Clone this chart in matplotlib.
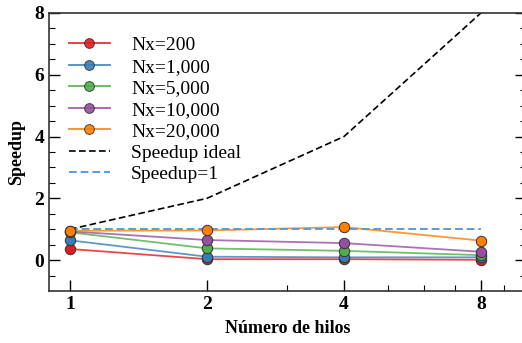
import matplotlib.pyplot as plt
from matplotlib.ticker import FixedLocator, NullFormatter

plt.rcParams['font.family'] = ['Liberation Serif', 'DejaVu Serif']

# Data
hilos = [1, 2, 4, 8]
labels = ['Nx=200', 'Nx=1,000', 'Nx=5,000', 'Nx=10,000', 'Nx=20,000']
speedup_200 = [0.36, 0.03, 0.03, 0.01]
speedup_1000 = [0.64, 0.11, 0.09, 0.09]
speedup_5000 = [0.90, 0.38, 0.30, 0.16]
speedup_10000 = [0.93, 0.65, 0.55, 0.27]
speedup_20000 = [0.95, 0.96, 1.07, 0.63]
ideal = [1, 2, 4, 8]
uno = [1, 1, 1, 1]

series = [speedup_200, speedup_1000, speedup_5000, speedup_10000, speedup_20000]
colors = ['#e41a1c', '#377eb8', '#4daf4a', '#984ea3', '#ff7f00']

fig = plt.figure(figsize=(5.22, 3.43), dpi=100)
ax = fig.add_axes([0.0943, 0.1516, 0.9134, 0.8106])

for y, c, lab in zip(series, colors, labels):
    ax.plot(hilos, y, color=c, lw=1.3, alpha=0.8)
    ax.plot(hilos, y, 'o', color=c, ms=7.5, mec='#333333', mew=0.7, zorder=3)
# legend proxies with markers
handles = []
for c, lab in zip(colors, labels):
    h, = ax.plot([], [], color=c, lw=1.3, alpha=0.9, marker='o', ms=7, mfc=c,
                 mec='#333333', mew=0.7, label=lab)
    handles.append(h)
h_ideal, = ax.plot(hilos, ideal, '--', color='black', lw=1.2, label='Speedup ideal', dashes=(4, 2))
h_uno, = ax.plot(hilos, uno, '--', color='#5b9bd5', lw=1.4, label='Speedup=1', dashes=(4, 2))
handles += [h_ideal, h_uno]

ax.set_xscale('log', base=2)
ax.set_xlim(0.9, 10.05)
ax.set_ylim(-1, 8)
ax.xaxis.set_major_locator(FixedLocator(hilos))
ax.set_xticklabels([str(h) for h in hilos])
ax.xaxis.set_minor_locator(FixedLocator([3, 5, 6, 7, 9]))
ax.xaxis.set_minor_formatter(NullFormatter())
ax.set_yticks([0, 2, 4, 6, 8])
ax.set_yticks([-0.5 + 0.5 * i for i in range(18)], minor=True)

ax.tick_params(which='both', direction='in', right=True, labelsize=14)
ax.tick_params(which='major', length=8, width=1.0)
ax.tick_params(which='minor', length=4, width=0.8)
for t in ax.get_xticklabels() + ax.get_yticklabels():
    t.set_fontweight('bold')
for s in ax.spines.values():
    s.set_linewidth(1.2)
    s.set_color('#333333')

ax.set_xlabel('Número de hilos', fontsize=13, fontweight='bold', labelpad=5)
ax.set_ylabel('Speedup', fontsize=13, fontweight='bold', labelpad=7)

ax.legend(handles=handles, loc='upper left', frameon=False, fontsize=14,
          handlelength=2.1, handletextpad=1.1, labelspacing=0.2,
          borderaxespad=0.6, bbox_to_anchor=(0.0, 0.985))

fig.savefig('out.png', dpi=100)
